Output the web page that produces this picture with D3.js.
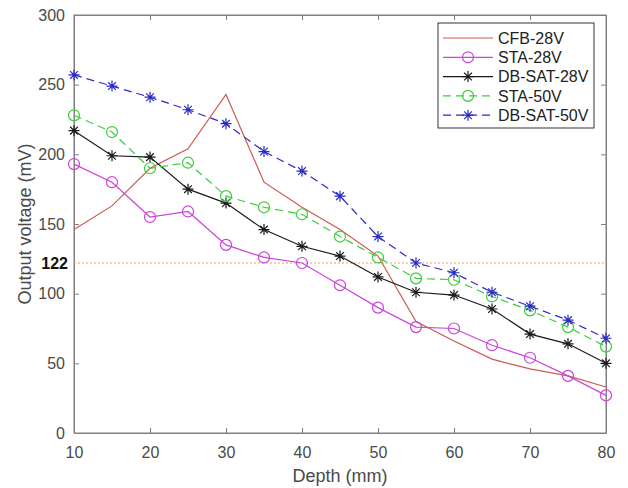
<!DOCTYPE html>
<html>
<head>
<meta charset="utf-8">
<script src="https://cdn.jsdelivr.net/npm/d3@7"></script>
<style>
  body { margin: 0; background: #fff; }
  svg { font-family: "Liberation Sans", Arial, sans-serif; }
</style>
</head>
<body>
<div id="chart"></div>
<script>
// depth values (mm)
var depth = [10, 15, 20, 25, 30, 35, 40, 45, 50, 55, 60, 65, 70, 75, 80];

var cfb28 = [146, 163, 190, 204, 243, 180, 162, 146, 127, 80, 66, 53, 46, 41, 33];
var sta28 = [193, 180, 155, 159, 135, 126, 122, 106, 90, 76, 75, 63, 54, 41, 27];
var dbsat28 = [217, 199, 198, 175, 165, 146, 134, 127, 112, 101, 99, 89, 71, 64, 50];
var sta50 = [228, 216, 190, 194, 170, 162, 157, 141, 126, 111, 110, 98, 88, 76, 62];
var dbsat50 = [257, 249, 241, 232, 222, 202, 188, 170, 141, 122, 115, 101, 91, 81, 68];

var seriesNames = ["CFB-28V", "STA-28V", "DB-SAT-28V", "STA-50V", "DB-SAT-50V"];
var xTicks = [10, 20, 30, 40, 50, 60, 70, 80];
var yTicks = [0, 50, 100, 150, 200, 250, 300];
var refValue = 122;

var series = [
  {name: seriesNames[0], values: cfb28, color: "#cc5a4f", dash: null, marker: "none"},
  {name: seriesNames[1], values: sta28, color: "#cc44d8", dash: null, marker: "circle"},
  {name: seriesNames[2], values: dbsat28, color: "#1a1a1a", dash: null, marker: "star"},
  {name: seriesNames[3], values: sta50, color: "#3ccc3c", dash: "8,5", marker: "circle"},
  {name: seriesNames[4], values: dbsat50, color: "#2a2ac4", dash: "8,5", marker: "star"}
];

var width = 628, height = 488;
var margin = {top: 15, right: 22, bottom: 55, left: 74};
var w = width - margin.left - margin.right,
    h = height - margin.top - margin.bottom;

var svg = d3.select("#chart").append("svg")
    .attr("width", width)
    .attr("height", height);

var g = svg.append("g")
    .attr("transform", "translate(" + margin.left + "," + margin.top + ")");

var x = d3.scaleLinear().domain([10, 80]).range([0, w]);
var y = d3.scaleLinear().domain([0, 300]).range([h, 0]);

var axisColor = "#808080", textColor = "#4a4a4a";

// box
g.append("rect")
    .attr("width", w).attr("height", h)
    .attr("fill", "none").attr("stroke", axisColor).attr("stroke-width", 1);

// axes (ticks pointing inward, MATLAB style)
var xAxis = g.append("g").attr("transform", "translate(0," + h + ")")
    .call(d3.axisBottom(x).tickValues(xTicks).tickSizeInner(-5).tickSizeOuter(0).tickPadding(14));
var xTop = g.append("g")
    .call(d3.axisTop(x).tickValues(xTicks).tickSizeInner(-5).tickSizeOuter(0).tickFormat(""));
var yAxis = g.append("g")
    .call(d3.axisLeft(y).tickValues(yTicks).tickSizeInner(-5).tickSizeOuter(0).tickPadding(9));
var yRight = g.append("g").attr("transform", "translate(" + w + ",0)")
    .call(d3.axisRight(y).tickValues(yTicks).tickSizeInner(-5).tickSizeOuter(0).tickFormat(""));

[xAxis, xTop, yAxis, yRight].forEach(function(a) {
  a.select(".domain").attr("stroke", axisColor);
  a.selectAll(".tick line").attr("stroke", axisColor);
  a.selectAll(".tick text").attr("fill", textColor).style("font-size", "16px")
      .style("font-family", "Liberation Sans, Arial, sans-serif");
});

// reference line at 122
g.append("line")
    .attr("x1", 0).attr("x2", w)
    .attr("y1", y(refValue)).attr("y2", y(refValue))
    .attr("stroke", "#e8a060").attr("stroke-width", 1)
    .attr("stroke-dasharray", "2,2");

g.append("text")
    .attr("x", -6).attr("y", y(refValue))
    .attr("dy", "0.35em")
    .attr("text-anchor", "end")
    .style("font-weight", "bold")
    .style("font-size", "16px")
    .attr("fill", "#111")
    .text(refValue);

// lines
var line = d3.line()
    .x(function(d, i) { return x(depth[i]); })
    .y(function(d) { return y(d); });

function drawMarker(sel, type, color) {
  if (type === "circle") {
    sel.append("circle").attr("r", 5.5)
        .attr("fill", "none").attr("stroke", color).attr("stroke-width", 1.2);
  } else if (type === "star") {
    var s = 5.5, d = s * 0.7;
    var p = "M" + (-s) + ",0L" + s + ",0M0," + (-s) + "L0," + s +
            "M" + (-d) + "," + (-d) + "L" + d + "," + d +
            "M" + (-d) + "," + d + "L" + d + "," + (-d);
    sel.append("path").attr("d", p)
        .attr("stroke", color).attr("stroke-width", 1.2).attr("fill", "none");
  }
}

series.forEach(function(s) {
  g.append("path")
      .datum(s.values)
      .attr("d", line)
      .attr("fill", "none")
      .attr("stroke", s.color)
      .attr("stroke-width", 1.2)
      .attr("stroke-dasharray", s.dash);

  if (s.marker !== "none") {
    g.selectAll(null)
        .data(s.values)
      .enter().append("g")
        .attr("transform", function(d, i) { return "translate(" + x(depth[i]) + "," + y(d) + ")"; })
        .each(function() { drawMarker(d3.select(this), s.marker, s.color); });
  }
});

// legend
var legend = g.append("g").attr("transform", "translate(" + (438 - margin.left) + "," + (23 - margin.top) + ")");
legend.append("rect")
    .attr("width", 156).attr("height", 105)
    .attr("fill", "#fff").attr("stroke", "#333").attr("stroke-width", 1);

series.forEach(function(s, i) {
  var row = legend.append("g").attr("transform", "translate(0," + (15 + i * 19.3) + ")");
  row.append("line")
      .attr("x1", 5).attr("x2", 55)
      .attr("stroke", s.color).attr("stroke-width", 1.2)
      .attr("stroke-dasharray", s.dash);
  var m = row.append("g").attr("transform", "translate(30,0)");
  drawMarker(m, s.marker, s.color);
  row.append("text")
      .attr("x", 60).attr("dy", "0.35em")
      .style("font-size", "16px")
      .attr("fill", "#222")
      .text(s.name);
});

// axis labels
svg.append("text")
    .attr("x", margin.left + w / 2).attr("y", 482)
    .attr("text-anchor", "middle")
    .style("font-size", "18px")
    .attr("fill", textColor)
    .text("Depth (mm)");

svg.append("text")
    .attr("transform", "translate(31," + (margin.top + h / 2) + ")rotate(-90)")
    .attr("text-anchor", "middle")
    .style("font-size", "18px")
    .attr("fill", textColor)
    .text("Output voltage (mV)");
</script>
</body>
</html>
